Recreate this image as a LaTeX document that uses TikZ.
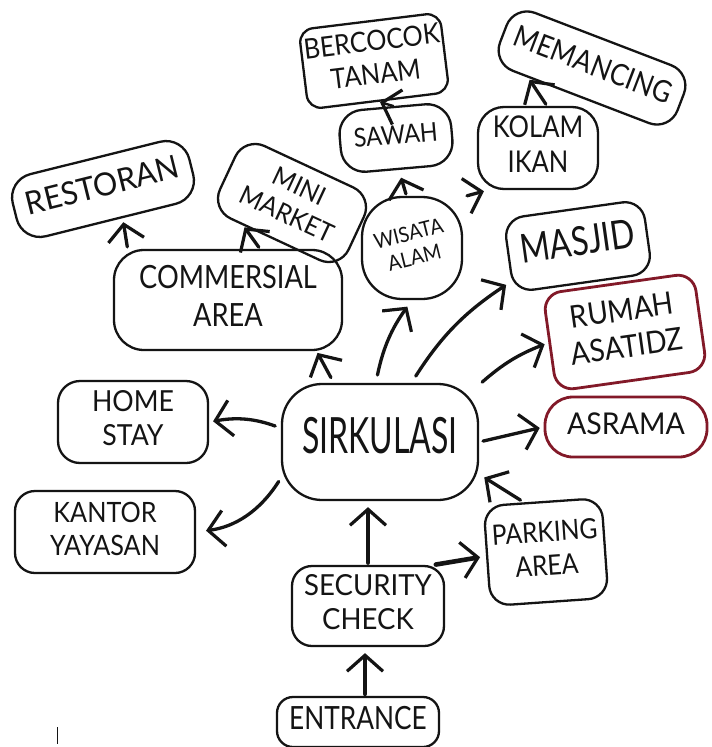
\documentclass[tikz,border=0pt]{standalone}
\usepackage{fontspec}
\usepackage{graphicx}
\setmainfont{Lato}
\usetikzlibrary{arrows.meta}
\definecolor{ink}{RGB}{20,20,20}
\definecolor{wine}{RGB}{130,25,40}
% narrow, stacked label text
\newcommand{\lbl}[3][0.8]{{\fontsize{#2}{1.18\dimexpr #2pt\relax}\selectfont\scalebox{#1}[1]{\begin{tabular}{@{}c@{}}#3\end{tabular}}}}
\tikzset{
  box/.style={draw=ink, line width=2.3pt, rounded corners=14pt, align=center,
    inner sep=0pt, text=ink},
  redbox/.style={box, draw=wine, line width=2.8pt},
  link/.style={draw=ink, line width=3.3pt, line cap=round,
    arrows={-Straight Barb[length=16pt,width=36pt,line width=3.2pt]}},
  heavy/.style={link, line width=4.6pt}
}
\begin{document}
\begin{tikzpicture}[x=1pt,y=1pt]
\fill[white] (0,0) rectangle (712,-747);
\useasboundingbox (0,0) rectangle (712,-747);

% boxes
\node[box, minimum width=142pt, minimum height=80pt, rotate=7] (tanam) at (374,-61) {\lbl[0.9]{28}{BERCOCOK\\TANAM}};
\node[box, minimum width=190pt, minimum height=62pt, rotate=-21, rounded corners=22pt] (pancing) at (592,-68) {\lbl[0.88]{30}{MEMANCING}};
\node[box, minimum width=112pt, minimum height=62pt, rotate=5, rounded corners=24pt] (sawah) at (396,-138) {\lbl[0.9]{26}{SAWAH}};
\node[box, minimum width=120pt, minimum height=82pt, rounded corners=26pt] (kolam) at (538,-148) {\lbl[0.85]{30}{KOLAM\\IKAN}};
\node[box, minimum width=182pt, minimum height=64pt, rotate=14, rounded corners=24pt] (resto) at (103,-189) {\lbl[0.95]{32}{RESTORAN}};
\node[box, minimum width=142pt, minimum height=80pt, rotate=-25, rounded corners=22pt] (mini) at (292,-203) {\lbl[0.95]{26}{MINI\\MARKET}};
\node[box, minimum width=100pt, minimum height=102pt, rounded corners=40pt] (wisata) at (412,-248) {\rotatebox{14}{\lbl[0.92]{21}{WISATA\\ALAM}}};
\node[box, minimum width=140pt, minimum height=74pt, rotate=8, rounded corners=20pt] (masjid) at (578,-246) {\lbl[0.8]{40}{MASJID}};
\node[box, minimum width=228pt, minimum height=100pt, rounded corners=30pt] (comm) at (228,-300) {\lbl[0.85]{32}{COMMERSIAL\\AREA}};
\node[redbox, minimum width=152pt, minimum height=98pt, rotate=8, rounded corners=18pt] (rumah) at (625,-332) {\lbl[0.9]{31}{RUMAH\\ASATIDZ}};
\node[box, minimum width=150pt, minimum height=82pt, rounded corners=22pt] (home) at (133,-422) {\lbl[0.92]{29}{HOME\\STAY}};
\node[box, minimum width=196pt, minimum height=116pt, rounded corners=40pt] (sirk) at (380,-442) {\lbl[0.64]{50}{SIRKULASI}};
\node[redbox, minimum width=162pt, minimum height=60pt, rounded corners=28pt] (asrama) at (626,-427) {\lbl[0.95]{30}{ASRAMA}};
\node[box, minimum width=180pt, minimum height=82pt, rounded corners=20pt] (kantor) at (105,-532) {\lbl[0.9]{28}{KANTOR\\YAYASAN}};
\node[box, minimum width=118pt, minimum height=100pt, rotate=4, rounded corners=20pt] (parkir) at (546,-552) {\lbl[0.88]{28}{PARKING\\AREA}};
\node[box, minimum width=152pt, minimum height=80pt, rounded corners=20pt] (secur) at (368,-606) {\lbl[0.95]{29}{SECURITY\\CHECK}};
\node[box, minimum width=162pt, minimum height=50pt, rounded corners=16pt] (entr) at (358,-722) {\lbl[0.82]{32}{ENTRANCE}};

% stray pen mark
\coordinate (markA) at (57,-727);
\coordinate (markB) at (57,-744);
\draw[ink, line width=1pt] (markA) -- (markB);

% entry path
\draw[heavy, shorten <=2pt, shorten >=6pt] (entr.north) ++(7,0) coordinate (e1) (e1) -- (e1 |- secur.south);
\draw[heavy, line width=4pt, shorten <=2pt, shorten >=6pt] (secur.north) -- (secur.north |- sirk.south);
\draw[heavy, shorten <=2pt, shorten >=6pt] (secur.32) -- (parkir.west);
\draw[link, shorten <=4pt, shorten >=6pt] (parkir.110) -- (sirk.-18);

% out of SIRKULASI
\draw[link, shorten <=4pt, shorten >=10pt] (sirk.200) to[bend left=25] (kantor.east);
\draw[link, shorten <=6pt, shorten >=4pt] (sirk.172) to[bend right=15] (home.east);
\draw[link, shorten <=6pt, shorten >=2pt] (sirk.128) -- (comm.-30);
\draw[link, shorten <=8pt, shorten >=8pt] (sirk.94) to[bend left=12] (wisata.south);
\draw[link, shorten <=8pt, shorten >=6pt] (sirk.62) to[bend left=12] (masjid.-160);
\draw[link, shorten <=4pt, shorten >=4pt] (sirk.30) to[bend left=10] (rumah.west);
\draw[link, shorten <=4pt, shorten >=4pt] (sirk.east) -- (asrama.west);

% second level
\draw[link, shorten <=2pt, shorten >=4pt] (comm.153) -- (resto.-70);
\draw[link, shorten <=2pt, shorten >=2pt] (comm.58) -- (mini.-130);
\draw[link, shorten <=2pt, shorten >=8pt] (wisata.96) -- (sawah.south);
\draw[link, shorten <=4pt, shorten >=4pt] (wisata.45) -- (kolam.-140);
\draw[link, line width=2.4pt, shorten <=0pt, shorten >=1pt] (sawah.north) -- (tanam.south);
\draw[link, shorten <=2pt, shorten >=2pt] (kolam.78) -- (pancing.-150);
\end{tikzpicture}
\end{document}
